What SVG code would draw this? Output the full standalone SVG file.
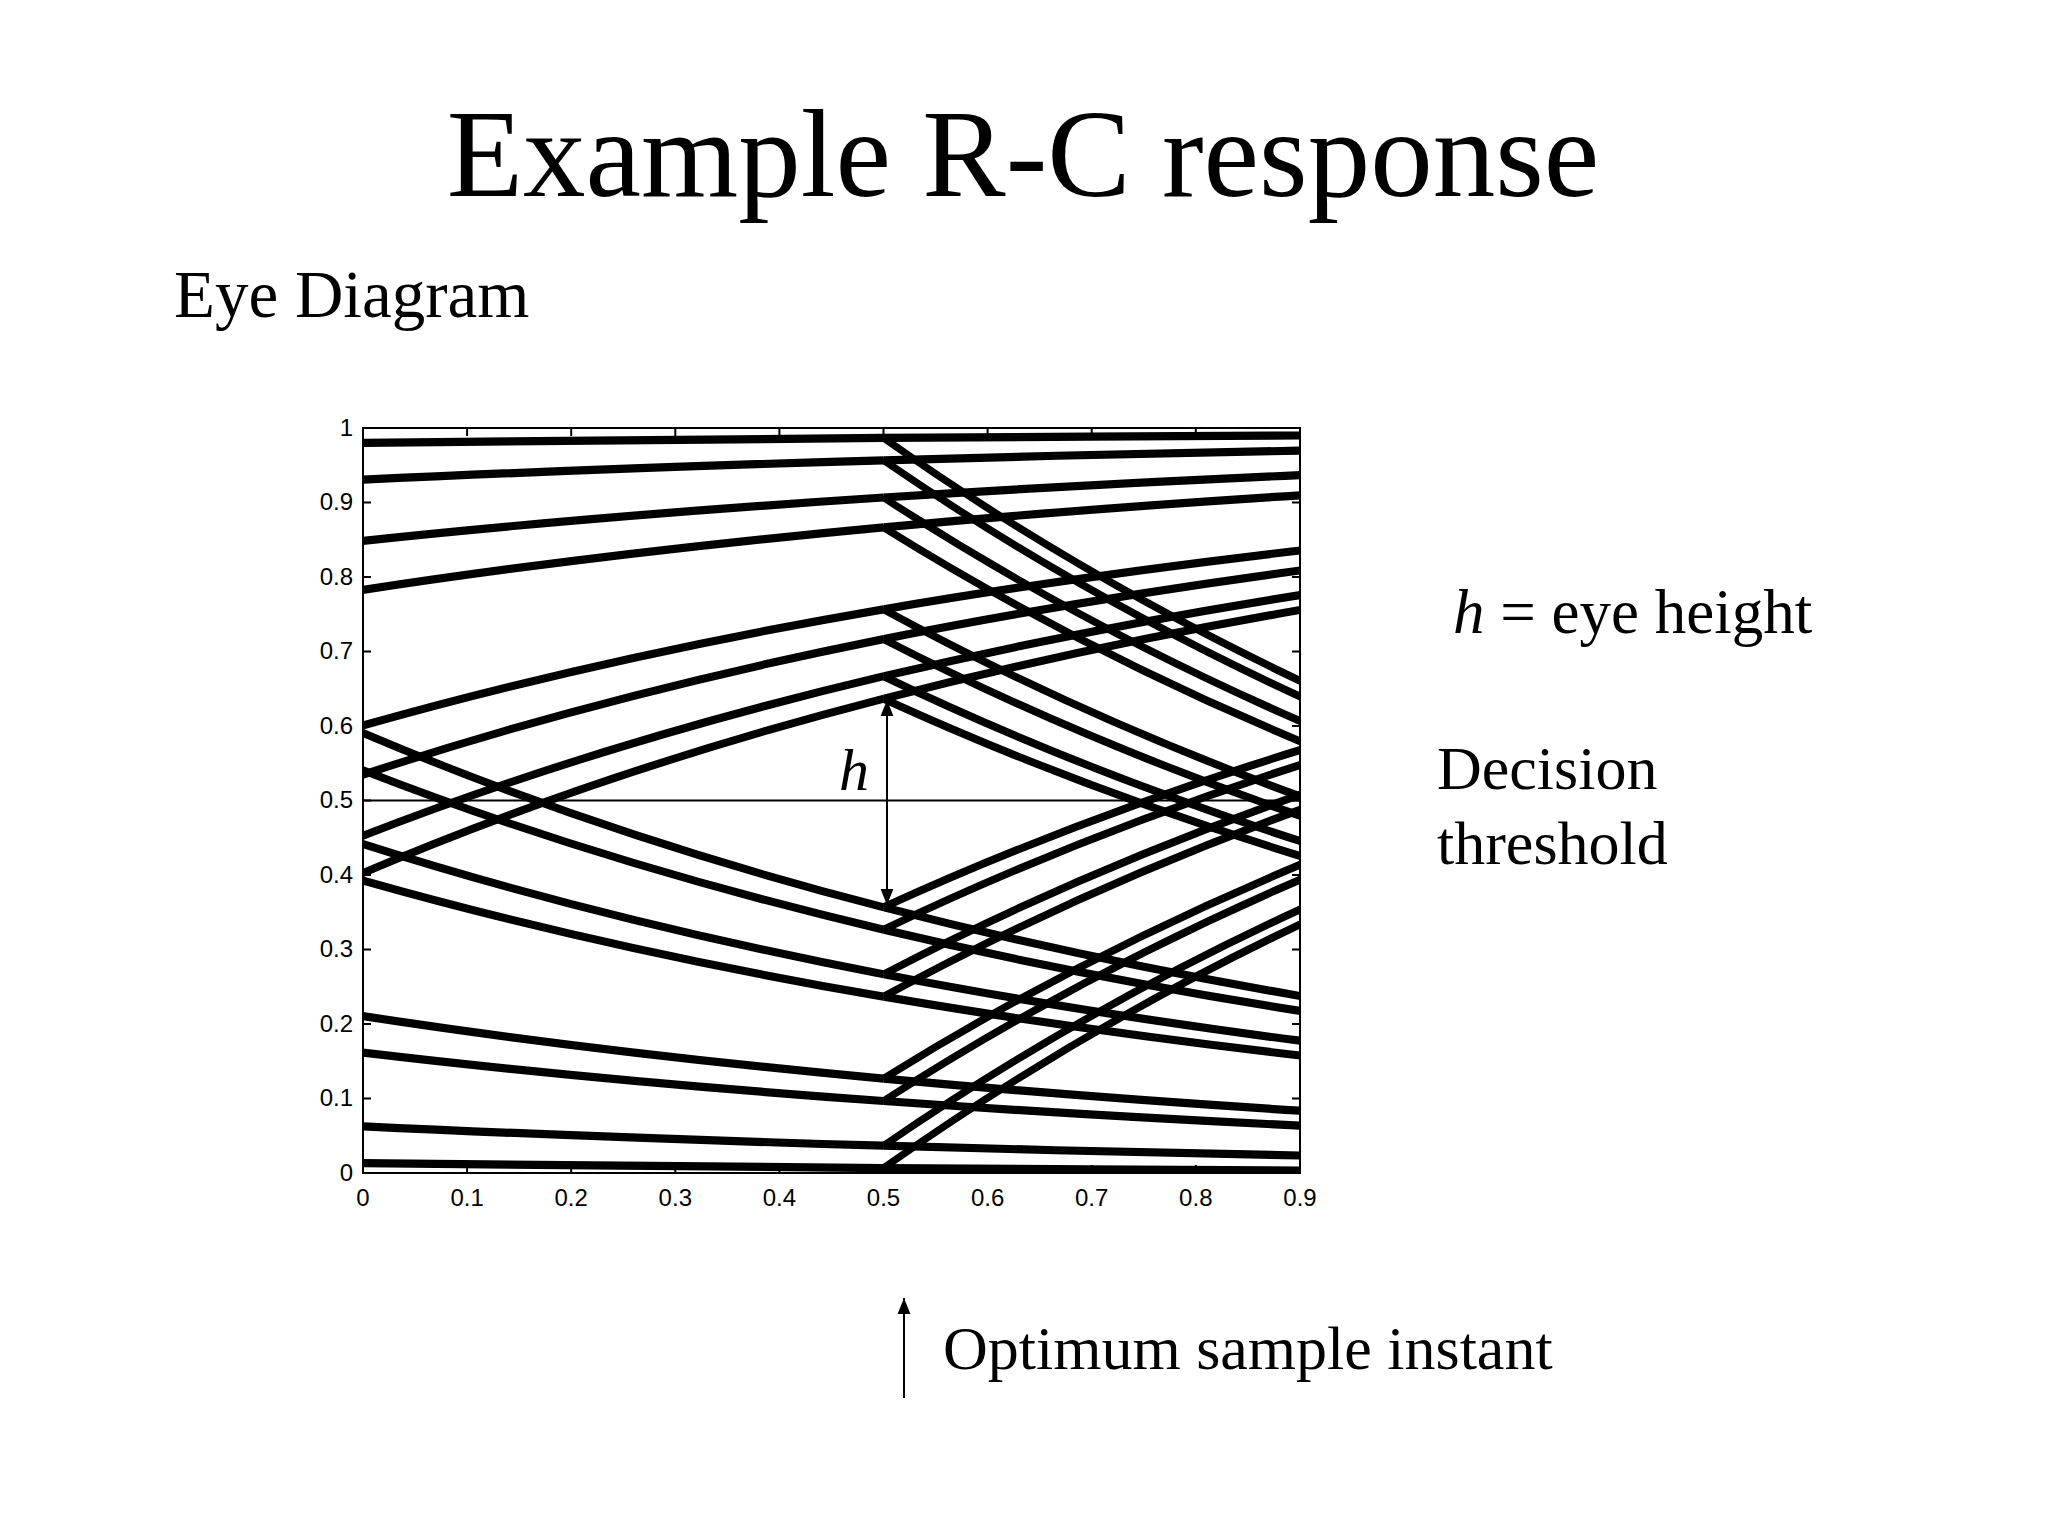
<svg xmlns="http://www.w3.org/2000/svg" xmlns:xlink="http://www.w3.org/1999/xlink" width="2048" height="1536" viewBox="0 0 2048 1536">
<style>
.serif{font-family:"Liberation Serif","Times New Roman",serif;fill:#000}
.tick{font-family:"Liberation Sans",Arial,sans-serif;font-size:24px;fill:#000}
.tr{fill:none;stroke:#000;stroke-width:3.2}
.ax{fill:none;stroke:#000;stroke-width:2}
</style>
<defs>
<marker id="ah" viewBox="0 0 10 10" refX="10" refY="5" markerWidth="8" markerHeight="8" orient="auto-start-reverse"><path d="M0,1 L10,5 L0,9 z" fill="#000"/></marker>
<clipPath id="plot"><rect x="363" y="428" width="937" height="745"/></clipPath>
</defs>
<rect width="2048" height="1536" fill="#fff"/>
<text class="serif" x="1023" y="196" font-size="125" text-anchor="middle">Example R-C response</text>
<text class="serif" x="174" y="317" font-size="67">Eye Diagram</text>
<g id="traces-area" clip-path="url(#plot)">
<g id="traces" class="tr">
<path d="M363,440.3 C536.5,438.3 710,436.7 883.5,435.4"/>
<path d="M363,477.2 C536.5,469 710,462.8 883.5,457.8"/>
<path d="M363,538.3 C536.5,519.9 710,506.2 883.5,495"/>
<path d="M363,587.4 C536.5,560.8 710,541 883.5,524.8"/>
<path d="M363,723 C536.5,673.8 710,636.6 883.5,606.8"/>
<path d="M363,772.2 C536.5,714.8 710,671.4 883.5,636.6"/>
<path d="M363,833.3 C536.5,765.7 710,714.8 883.5,673.8"/>
<path d="M363,870.5 C536.5,796.8 710,740.9 883.5,696.2"/>
<path d="M363,730.5 C536.5,804.2 710,860.1 883.5,904.8"/>
<path d="M363,767.7 C536.5,835.3 710,886.2 883.5,927.1"/>
<path d="M363,841.5 C536.5,896.7 710,938.3 883.5,971.8"/>
<path d="M363,878 C536.5,927.1 710,964.4 883.5,994.2"/>
<path d="M363,1013.6 C536.5,1040.2 710,1060 883.5,1076.1"/>
<path d="M363,1050.1 C536.5,1070.6 710,1086.1 883.5,1098.5"/>
<path d="M363,1123.8 C536.5,1132 710,1138.2 883.5,1143.2"/>
<path d="M363,1160.7 C536.5,1162.8 710,1164.3 883.5,1165.55"/>
<path d="M883.5,435.4 C1022.3,434.5 1161.2,433.6 1300,433"/>
<path d="M883.5,457.8 C1022.3,453.8 1161.2,450.8 1300,448.1"/>
<path d="M883.5,495 C1022.3,486.1 1161.2,478.7 1300,472.7"/>
<path d="M883.5,524.8 C1022.3,512 1161.2,501.5 1300,492.8"/>
<path d="M883.5,606.8 C1022.3,583 1161.2,564 1300,548"/>
<path d="M883.5,636.6 C1022.3,608.8 1161.2,586.7 1300,568"/>
<path d="M883.5,673.8 C1022.3,641.1 1161.2,614.6 1300,592.6"/>
<path d="M883.5,696.2 C1022.3,660.4 1161.2,631.5 1300,607.5"/>
<path d="M883.5,904.8 C1022.3,841.3 1161.2,790.2 1300,747.6"/>
<path d="M883.5,927.1 C1022.3,860.6 1161.2,807.1 1300,762.5"/>
<path d="M883.5,971.8 C1022.3,899.4 1161.2,840.9 1300,792.3"/>
<path d="M883.5,994.2 C1022.3,918.7 1161.2,857.8 1300,807.2"/>
<path d="M883.5,1076.1 C1022.3,989.7 1161.2,920.2 1300,862.3"/>
<path d="M883.5,1098.5 C1022.3,1009.1 1161.2,937.1 1300,877.2"/>
<path d="M883.5,1143.2 C1022.3,1047.8 1161.2,970.9 1300,907"/>
<path d="M883.5,1165.55 C1022.3,1067.2 1161.2,987.8 1300,921.9"/>
<path d="M883.5,435.4 C1022.3,533.8 1161.2,612.4 1300,678.3"/>
<path d="M883.5,457.8 C1022.3,553.2 1161.2,630 1300,694"/>
<path d="M883.5,495 C1022.3,585.4 1161.2,658 1300,718.5"/>
<path d="M883.5,524.8 C1022.3,611.3 1161.2,680.8 1300,738.7"/>
<path d="M883.5,606.8 C1022.3,682.3 1161.2,743.2 1300,793.8"/>
<path d="M883.5,636.6 C1022.3,708.1 1161.2,765.2 1300,813.2"/>
<path d="M883.5,673.8 C1022.3,740.4 1161.2,793.9 1300,838.5"/>
<path d="M883.5,696.2 C1022.3,759.7 1161.2,810.8 1300,853.4"/>
<path d="M883.5,904.8 C1022.3,940.6 1161.2,969.5 1300,993.5"/>
<path d="M883.5,927.1 C1022.3,959.9 1161.2,986.4 1300,1008.4"/>
<path d="M883.5,971.8 C1022.3,998.7 1161.2,1020.2 1300,1038.2"/>
<path d="M883.5,994.2 C1022.3,1018 1161.2,1037 1300,1053"/>
<path d="M883.5,1076.1 C1022.3,1089 1161.2,1099.5 1300,1108.2"/>
<path d="M883.5,1098.5 C1022.3,1108.4 1161.2,1116.5 1300,1123.1"/>
<path d="M883.5,1143.2 C1022.3,1147.2 1161.2,1150.4 1300,1153"/>
<path d="M883.5,1165.55 C1022.3,1166.5 1161.2,1167.4 1300,1168"/>
</g>
<use xlink:href="#traces" href="#traces" transform="translate(0,2.5)"/>
<use xlink:href="#traces" href="#traces" transform="translate(0,5)"/>
</g>
<g id="axes">
<rect class="ax" x="363" y="428" width="937" height="745"/>
<path class="ax" d="M363,1098.5h8M363,1024h8M363,949.5h8M363,875h8M363,800.5h8M363,726h8M363,651.5h8M363,577h8M363,502.5h8M1300,1098.5h-8M1300,1024h-8M1300,949.5h-8M1300,875h-8M1300,800.5h-8M1300,726h-8M1300,651.5h-8M1300,577h-8M1300,502.5h-8M467.1,1173v-8M571.2,1173v-8M675.3,1173v-8M779.4,1173v-8M883.5,1173v-8M987.6,1173v-8M1091.7,1173v-8M1195.8,1173v-8M467.1,428v8M571.2,428v8M675.3,428v8M779.4,428v8M883.5,428v8M987.6,428v8M1091.7,428v8M1195.8,428v8"/>
<g class="tick" text-anchor="end">
<text x="353" y="1181">0</text><text x="353" y="1106">0.1</text><text x="353" y="1032">0.2</text><text x="353" y="957">0.3</text><text x="353" y="883">0.4</text><text x="353" y="808">0.5</text><text x="353" y="734">0.6</text><text x="353" y="659">0.7</text><text x="353" y="585">0.8</text><text x="353" y="510">0.9</text><text x="353" y="436">1</text>
</g>
<g class="tick" text-anchor="middle">
<text x="363" y="1206">0</text><text x="467.1" y="1206">0.1</text><text x="571.2" y="1206">0.2</text><text x="675.3" y="1206">0.3</text><text x="779.4" y="1206">0.4</text><text x="883.5" y="1206">0.5</text><text x="987.6" y="1206">0.6</text><text x="1091.7" y="1206">0.7</text><text x="1195.8" y="1206">0.8</text><text x="1300" y="1206">0.9</text>
</g>
</g>
<g id="connectors">
<line x1="363" y1="800.5" x2="1300" y2="800.5" stroke="#000" stroke-width="2"/>
<line x1="887" y1="700" x2="887" y2="905" stroke="#000" stroke-width="2" marker-start="url(#ah)" marker-end="url(#ah)"/>
<line x1="904" y1="1398" x2="904" y2="1298" stroke="#000" stroke-width="2" marker-end="url(#ah)"/>
</g>
<text class="serif" x="839" y="790" font-size="60" font-style="italic">h</text>
<text class="serif" x="1453" y="633" font-size="63"><tspan font-style="italic">h</tspan> = eye height</text>
<text class="serif" x="1437" y="789" font-size="62">Decision</text>
<text class="serif" x="1437" y="864" font-size="62">threshold</text>
<text class="serif" x="943" y="1369" font-size="62">Optimum sample instant</text>
</svg>
